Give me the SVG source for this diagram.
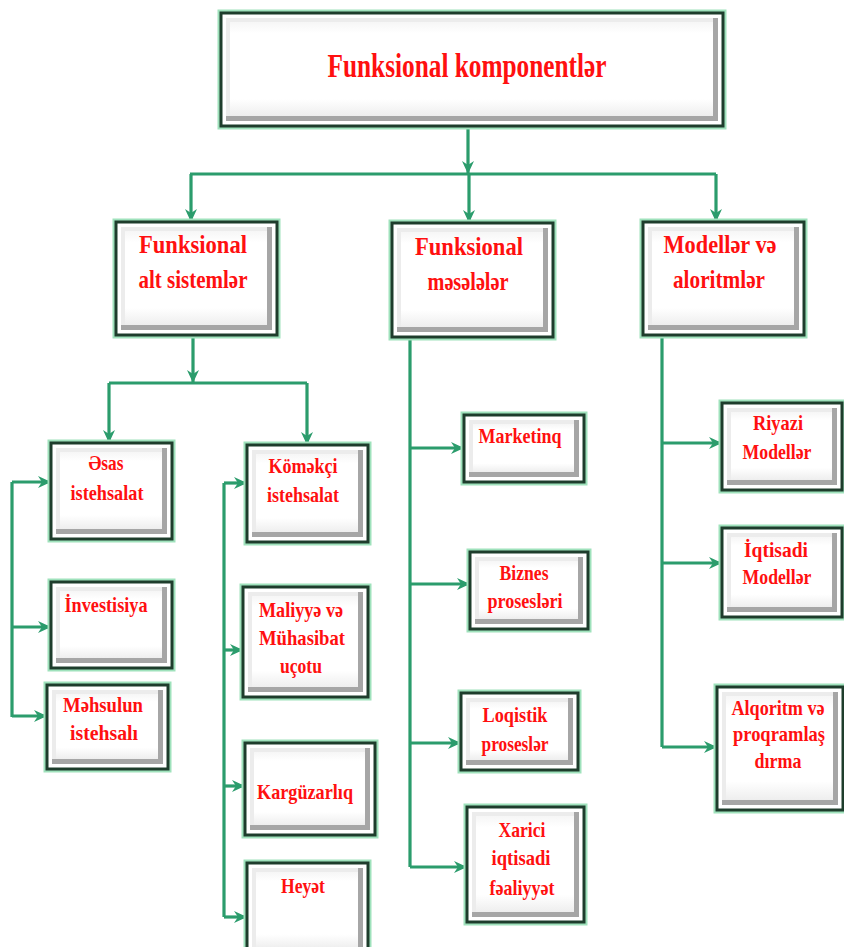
<svg xmlns="http://www.w3.org/2000/svg" width="844" height="947" viewBox="0 0 844 947">
  <style>
    .glow { fill: none; stroke: #9fe2bc; stroke-width: 7; }
    .frame { fill: #ffffff; stroke: #1e3d2c; stroke-width: 3; }
    .dark { fill: #a6a6a6; }
    .light { fill: #ececec; }
    .face { fill: url(#faceGrad); }
    .lbl { font-family: "Liberation Serif", "Times New Roman", serif; font-weight: bold; fill: #ff1010; text-anchor: middle; }
    .big { font-size: 33px; }
    .mid { font-size: 26px; }
    .sm { font-size: 21px; }
    .conn path { fill: none; stroke: #2b9c6c; stroke-width: 3.2; }
    .conn path.a { marker-end: url(#arr); }
  </style>
  <defs>
    <linearGradient id="faceGrad" x1="0" y1="0" x2="0" y2="1">
      <stop offset="0" stop-color="#f6f6f6"/>
      <stop offset="0.12" stop-color="#ffffff"/>
      <stop offset="0.82" stop-color="#ffffff"/>
      <stop offset="1" stop-color="#eeeeee"/>
    </linearGradient>
    <marker id="arr" markerUnits="userSpaceOnUse" markerWidth="14" markerHeight="12" refX="13" refY="6" orient="auto">
      <path d="M0,0 L13,6 L0,12 L4,6 z" fill="#2b9c6c"/>
    </marker>
  </defs>

  <!-- connectors -->
  <g id="connectors" class="conn">
    <path class="a" d="M468,126 V174"/>
    <path d="M190,174 H716"/>
    <path class="a" d="M191,174 V222"/>
    <path class="a" d="M469,174 V223"/>
    <path class="a" d="M716,174 V222"/>
    <path class="a" d="M193,335 V383"/>
    <path d="M109,383 H307"/>
    <path class="a" d="M109,383 V443"/>
    <path class="a" d="M307,383 V445"/>
    <path d="M12,482 V717"/>
    <path class="a" d="M12,482 H51"/>
    <path class="a" d="M12,627 H51"/>
    <path class="a" d="M12,716 H47"/>
    <path d="M224,483 V917"/>
    <path class="a" d="M224,483 H247"/>
    <path class="a" d="M224,650 H243"/>
    <path class="a" d="M224,786 H245"/>
    <path class="a" d="M224,917 H247"/>
    <path d="M410,337 V867"/>
    <path class="a" d="M410,448 H464"/>
    <path class="a" d="M410,584 H470"/>
    <path class="a" d="M410,743 H461"/>
    <path class="a" d="M410,867 H467"/>
    <path d="M662,335 V747"/>
    <path class="a" d="M662,443 H722"/>
    <path class="a" d="M662,563 H722"/>
    <path class="a" d="M662,747 H717"/>
  </g>

  <!-- root -->
  <g id="n-root">
    <rect class="glow" x="221" y="13" width="502" height="113"/>
    <rect class="frame" x="221" y="13" width="502" height="113"/>
    <rect class="dark" x="226" y="18" width="492" height="103"/>
    <rect class="light" x="226" y="18" width="487" height="98"/>
    <rect class="face" x="230" y="22" width="483" height="94"/>
    <text class="lbl big" x="467" y="77" textLength="279" lengthAdjust="spacingAndGlyphs">Funksional komponentlər</text>
  </g>

  <!-- second level -->
  <g id="n-alt">
    <rect class="glow" x="116" y="222" width="161" height="113"/>
    <rect class="frame" x="116" y="222" width="161" height="113"/>
    <rect class="dark" x="121" y="227" width="151" height="103"/>
    <rect class="light" x="121" y="227" width="146" height="98"/>
    <rect class="face" x="125" y="231" width="142" height="94"/>
    <text class="lbl mid" x="193" y="253" textLength="108" lengthAdjust="spacingAndGlyphs">Funksional</text>
    <text class="lbl mid" x="193" y="288" textLength="109" lengthAdjust="spacingAndGlyphs">alt sistemlər</text>
  </g>
  <g id="n-meseleler">
    <rect class="glow" x="392" y="223" width="161" height="114"/>
    <rect class="frame" x="392" y="223" width="161" height="114"/>
    <rect class="dark" x="397" y="228" width="151" height="104"/>
    <rect class="light" x="397" y="228" width="146" height="99"/>
    <rect class="face" x="401" y="232" width="142" height="95"/>
    <text class="lbl mid" x="469" y="255" textLength="108" lengthAdjust="spacingAndGlyphs">Funksional</text>
    <text class="lbl mid" x="468" y="290" textLength="81" lengthAdjust="spacingAndGlyphs">məsələlər</text>
  </g>
  <g id="n-modeller">
    <rect class="glow" x="643" y="222" width="161" height="113"/>
    <rect class="frame" x="643" y="222" width="161" height="113"/>
    <rect class="dark" x="648" y="227" width="151" height="103"/>
    <rect class="light" x="648" y="227" width="146" height="98"/>
    <rect class="face" x="652" y="231" width="142" height="94"/>
    <text class="lbl mid" x="720" y="253" textLength="113" lengthAdjust="spacingAndGlyphs">Modellər  və</text>
    <text class="lbl mid" x="719" y="288" textLength="92" lengthAdjust="spacingAndGlyphs">aloritmlər</text>
  </g>

  <!-- alt sistemlər branch -->
  <g id="n-esas">
    <rect class="glow" x="51" y="443" width="121" height="96"/>
    <rect class="frame" x="51" y="443" width="121" height="96"/>
    <rect class="dark" x="56" y="448" width="111" height="86"/>
    <rect class="light" x="56" y="448" width="106" height="81"/>
    <rect class="face" x="60" y="452" width="102" height="77"/>
    <text class="lbl sm" x="106" y="470" textLength="35" lengthAdjust="spacingAndGlyphs">Əsas</text>
    <text class="lbl sm" x="107" y="500" textLength="73" lengthAdjust="spacingAndGlyphs">istehsalat</text>
  </g>
  <g id="n-investisiya">
    <rect class="glow" x="51" y="582" width="121" height="86"/>
    <rect class="frame" x="51" y="582" width="121" height="86"/>
    <rect class="dark" x="56" y="587" width="111" height="76"/>
    <rect class="light" x="56" y="587" width="106" height="71"/>
    <rect class="face" x="60" y="591" width="102" height="67"/>
    <text class="lbl sm" x="106" y="612" textLength="83" lengthAdjust="spacingAndGlyphs">İnvestisiya</text>
  </g>
  <g id="n-mehsulun">
    <rect class="glow" x="47" y="685" width="121" height="84"/>
    <rect class="frame" x="47" y="685" width="121" height="84"/>
    <rect class="dark" x="52" y="690" width="111" height="74"/>
    <rect class="light" x="52" y="690" width="106" height="69"/>
    <rect class="face" x="56" y="694" width="102" height="65"/>
    <text class="lbl sm" x="103" y="712" textLength="80" lengthAdjust="spacingAndGlyphs">Məhsulun</text>
    <text class="lbl sm" x="104" y="740" textLength="68" lengthAdjust="spacingAndGlyphs">istehsalı</text>
  </g>
  <g id="n-komekci">
    <rect class="glow" x="247" y="445" width="121" height="97"/>
    <rect class="frame" x="247" y="445" width="121" height="97"/>
    <rect class="dark" x="252" y="450" width="111" height="87"/>
    <rect class="light" x="252" y="450" width="106" height="82"/>
    <rect class="face" x="256" y="454" width="102" height="78"/>
    <text class="lbl sm" x="303" y="473" textLength="69" lengthAdjust="spacingAndGlyphs">Köməkçi</text>
    <text class="lbl sm" x="303" y="502" textLength="72" lengthAdjust="spacingAndGlyphs">istehsalat</text>
  </g>
  <g id="n-maliyye">
    <rect class="glow" x="243" y="587" width="125" height="110"/>
    <rect class="frame" x="243" y="587" width="125" height="110"/>
    <rect class="dark" x="248" y="592" width="115" height="100"/>
    <rect class="light" x="248" y="592" width="110" height="95"/>
    <rect class="face" x="252" y="596" width="106" height="91"/>
    <text class="lbl sm" x="301" y="617" textLength="84" lengthAdjust="spacingAndGlyphs">Maliyyə və</text>
    <text class="lbl sm" x="302" y="645" textLength="86" lengthAdjust="spacingAndGlyphs">Mühasibat</text>
    <text class="lbl sm" x="301" y="673" textLength="42" lengthAdjust="spacingAndGlyphs">uçotu</text>
  </g>
  <g id="n-karguzarliq">
    <rect class="glow" x="245" y="743" width="130" height="92"/>
    <rect class="frame" x="245" y="743" width="130" height="92"/>
    <rect class="dark" x="250" y="748" width="120" height="82"/>
    <rect class="light" x="250" y="748" width="115" height="77"/>
    <rect class="face" x="254" y="752" width="111" height="73"/>
    <text class="lbl sm" x="305" y="799" textLength="96" lengthAdjust="spacingAndGlyphs">Kargüzarlıq</text>
  </g>
  <g id="n-heyet">
    <rect class="glow" x="247" y="863" width="121" height="95"/>
    <rect class="frame" x="247" y="863" width="121" height="95"/>
    <rect class="dark" x="252" y="868" width="111" height="85"/>
    <rect class="light" x="252" y="868" width="106" height="80"/>
    <rect class="face" x="256" y="872" width="102" height="76"/>
    <text class="lbl sm" x="303" y="893" textLength="44" lengthAdjust="spacingAndGlyphs">Heyət</text>
  </g>

  <!-- məsələlər branch -->
  <g id="n-marketinq">
    <rect class="glow" x="464" y="415" width="120" height="67"/>
    <rect class="frame" x="464" y="415" width="120" height="67"/>
    <rect class="dark" x="469" y="420" width="110" height="57"/>
    <rect class="light" x="469" y="420" width="105" height="52"/>
    <rect class="face" x="473" y="424" width="101" height="48"/>
    <text class="lbl sm" x="520" y="443" textLength="83" lengthAdjust="spacingAndGlyphs">Marketinq</text>
  </g>
  <g id="n-biznes">
    <rect class="glow" x="470" y="552" width="118" height="77"/>
    <rect class="frame" x="470" y="552" width="118" height="77"/>
    <rect class="dark" x="475" y="557" width="108" height="67"/>
    <rect class="light" x="475" y="557" width="103" height="62"/>
    <rect class="face" x="479" y="561" width="99" height="58"/>
    <text class="lbl sm" x="524" y="580" textLength="49" lengthAdjust="spacingAndGlyphs">Biznes</text>
    <text class="lbl sm" x="525" y="608" textLength="75" lengthAdjust="spacingAndGlyphs">prosesləri</text>
  </g>
  <g id="n-loqistik">
    <rect class="glow" x="461" y="693" width="117" height="77"/>
    <rect class="frame" x="461" y="693" width="117" height="77"/>
    <rect class="dark" x="466" y="698" width="107" height="67"/>
    <rect class="light" x="466" y="698" width="102" height="62"/>
    <rect class="face" x="470" y="702" width="98" height="58"/>
    <text class="lbl sm" x="515" y="722" textLength="65" lengthAdjust="spacingAndGlyphs">Loqistik</text>
    <text class="lbl sm" x="515" y="751" textLength="67" lengthAdjust="spacingAndGlyphs">proseslər</text>
  </g>
  <g id="n-xarici">
    <rect class="glow" x="467" y="807" width="117" height="115"/>
    <rect class="frame" x="467" y="807" width="117" height="115"/>
    <rect class="dark" x="472" y="812" width="107" height="105"/>
    <rect class="light" x="472" y="812" width="102" height="100"/>
    <rect class="face" x="476" y="816" width="98" height="96"/>
    <text class="lbl sm" x="522" y="837" textLength="47" lengthAdjust="spacingAndGlyphs">Xarici</text>
    <text class="lbl sm" x="521" y="865" textLength="59" lengthAdjust="spacingAndGlyphs">iqtisadi</text>
    <text class="lbl sm" x="522" y="895" textLength="65" lengthAdjust="spacingAndGlyphs">fəaliyyət</text>
  </g>

  <!-- modellər branch -->
  <g id="n-riyazi">
    <rect class="glow" x="722" y="403" width="120" height="87"/>
    <rect class="frame" x="722" y="403" width="120" height="87"/>
    <rect class="dark" x="727" y="408" width="110" height="77"/>
    <rect class="light" x="727" y="408" width="105" height="72"/>
    <rect class="face" x="731" y="412" width="101" height="68"/>
    <text class="lbl sm" x="778" y="430" textLength="50" lengthAdjust="spacingAndGlyphs">Riyazi</text>
    <text class="lbl sm" x="777" y="459" textLength="69" lengthAdjust="spacingAndGlyphs">Modellər</text>
  </g>
  <g id="n-iqtisadi">
    <rect class="glow" x="722" y="528" width="120" height="89"/>
    <rect class="frame" x="722" y="528" width="120" height="89"/>
    <rect class="dark" x="727" y="533" width="110" height="79"/>
    <rect class="light" x="727" y="533" width="105" height="74"/>
    <rect class="face" x="731" y="537" width="101" height="70"/>
    <text class="lbl sm" x="776" y="557" textLength="64" lengthAdjust="spacingAndGlyphs">İqtisadi</text>
    <text class="lbl sm" x="777" y="584" textLength="69" lengthAdjust="spacingAndGlyphs">Modellər</text>
  </g>
  <g id="n-alqoritm">
    <rect class="glow" x="717" y="687" width="126" height="123"/>
    <rect class="frame" x="717" y="687" width="126" height="123"/>
    <rect class="dark" x="722" y="692" width="116" height="113"/>
    <rect class="light" x="722" y="692" width="111" height="108"/>
    <rect class="face" x="726" y="696" width="107" height="104"/>
    <text class="lbl sm" x="778" y="715" textLength="93" lengthAdjust="spacingAndGlyphs">Alqoritm və</text>
    <text class="lbl sm" x="779" y="741" textLength="92" lengthAdjust="spacingAndGlyphs">proqramlaş</text>
    <text class="lbl sm" x="778" y="768" textLength="47" lengthAdjust="spacingAndGlyphs">dırma</text>
  </g>
</svg>
